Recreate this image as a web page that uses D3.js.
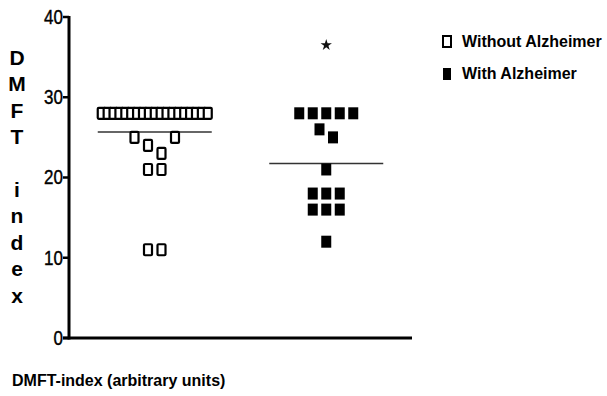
<!DOCTYPE html>
<html lang="en">
<head>
<meta charset="utf-8">
<title>DMFT index</title>
<script src="https://d3js.org/d3.v7.min.js"></script>
<style>
body { margin: 0; background: #fff; }
text { font-family: "Liberation Sans", Arial, sans-serif; fill: #000; }
.tick-label { font-size: 20px; stroke: #000; stroke-width: 0.4; }
.ylab { font-size: 21px; font-weight: bold; }
.legend { font-size: 16px; font-weight: bold; }
.xlab { font-size: 16px; font-weight: bold; }
</style>
</head>
<body>
<div id="container"></div>
<script>
// data
var groups = ["Without Alzheimer", "With Alzheimer"];
var withoutValues = [28,28,28,28,28,28,28,28,28,28,28,28,28,28,28,28,28,28,28, 25,24,23,25, 21,21, 11,11];
var withValues = [28,28,28,28,28, 26,25, 21, 18,18,18, 16,16,16, 12];
var withOutlier = [36.5];
var yTicks = [0, 10, 20, 30, 40];
var yLabelLetters = ["D","M","F","T","","i","n","d","e","x"];

var w = 607, h = 396;
var plotLeft = 69, plotRight = 412, plotTop = 17, plotBottom = 338;

var svg = d3.select("#container").append("svg")
  .attr("width", w).attr("height", h);

var y = d3.scaleLinear().domain([0, 40]).range([plotBottom, plotTop]);
var x = d3.scalePoint().domain(groups).range([plotLeft, plotRight]).padding(0.5);

// axes
svg.append("line").attr("x1", plotLeft).attr("x2", plotLeft).attr("y1", y(40) - 1).attr("y2", plotBottom + 1.5)
  .attr("stroke", "#000").attr("stroke-width", 3);
svg.append("line").attr("x1", plotLeft - 6).attr("x2", plotRight).attr("y1", plotBottom).attr("y2", plotBottom)
  .attr("stroke", "#000").attr("stroke-width", 3);
svg.selectAll(".tk").data(yTicks).enter().append("line")
  .attr("x1", plotLeft - 6).attr("x2", plotLeft).attr("y1", d => y(d)).attr("y2", d => y(d))
  .attr("stroke", "#000").attr("stroke-width", 2.5);
svg.selectAll(".tick-label").data(yTicks).enter().append("text")
  .attr("class", "tick-label")
  .attr("x", plotLeft - 6).attr("y", d => y(d) + 7)
  .attr("text-anchor", "end")
  .attr("transform", "translate(" + (plotLeft - 6) + ",0) scale(0.85,1) translate(" + (-(plotLeft - 6)) + ",0)")
  .text(d => d);

// vertical y label
svg.selectAll(".ylab").data(yLabelLetters).enter().append("text")
  .attr("class", "ylab")
  .attr("x", 17).attr("y", (d, i) => 65 + i * 26.4)
  .attr("text-anchor", "middle")
  .text(d => d);

// column scatter: points that would overlap vertically are grouped and spread sideways
function columnScatter(values, cx, bh, maxHalf, bw) {
  var sorted = values.slice().sort((a, b) => b - a);
  var clusters = [];
  sorted.forEach(function(v) {
    var last = clusters[clusters.length - 1];
    if (last && Math.abs(y(last[last.length - 1]) - y(v)) < bh) last.push(v);
    else clusters.push([v]);
  });
  // keep the order the values were listed in inside each cluster
  var placed = [];
  clusters.forEach(function(c) {
    var members = values.filter(v => c.indexOf(v) >= 0);
    var n = members.length;
    var step = Math.min(13.5, (2 * maxHalf - bw) / Math.max(1, n - 1));
    members.forEach(function(v, i) {
      placed.push({x: cx + (i - (n - 1) / 2) * step, y: y(v), v: v});
    });
  });
  return placed;
}

var half = 57;
var g1 = columnScatter(withoutValues, x(groups[0]), 10, half, 8);
var g2 = columnScatter(withValues, x(groups[1]), 12, half, 10);

// mean lines
[[withoutValues, groups[0]], [withValues, groups[1]]].forEach(function(s) {
  var m = d3.mean(s[0]);
  svg.append("line")
    .attr("x1", x(s[1]) - half).attr("x2", x(s[1]) + half)
    .attr("y1", y(m)).attr("y2", y(m))
    .attr("stroke", "#333").attr("stroke-width", 1.5);
});

svg.selectAll(".open").data(g1).enter().append("rect")
  .attr("x", d => d.x - 4).attr("y", d => d.y - 5.5)
  .attr("width", 8).attr("height", 11).attr("rx", 1)
  .attr("fill", "#fff").attr("stroke", "#000").attr("stroke-width", 2.2);

svg.selectAll(".filled").data(g2).enter().append("rect")
  .attr("x", d => d.x - 5).attr("y", d => d.y - 6)
  .attr("width", 10).attr("height", 12)
  .attr("fill", "#000");

svg.selectAll(".star").data(withOutlier).enter().append("path")
  .attr("d", d3.symbol().type(d3.symbolStar).size(40))
  .attr("transform", d => "translate(" + x(groups[1]) + "," + y(d) + ")")
  .attr("fill", "#111");

// legend
var lg = svg.append("g");
lg.append("rect").attr("x", 443).attr("y", 36).attr("width", 8).attr("height", 11)
  .attr("fill", "#fff").attr("stroke", "#000").attr("stroke-width", 2);
lg.append("rect").attr("x", 443).attr("y", 68).attr("width", 8).attr("height", 12).attr("fill", "#000");
lg.append("text").attr("class", "legend").attr("x", 462).attr("y", 47).text(groups[0]);
lg.append("text").attr("class", "legend").attr("x", 462).attr("y", 79).text(groups[1]);

svg.append("text").attr("class", "xlab").attr("x", 12).attr("y", 386)
  .text("DMFT-index (arbitrary units)");
</script>
</body>
</html>
